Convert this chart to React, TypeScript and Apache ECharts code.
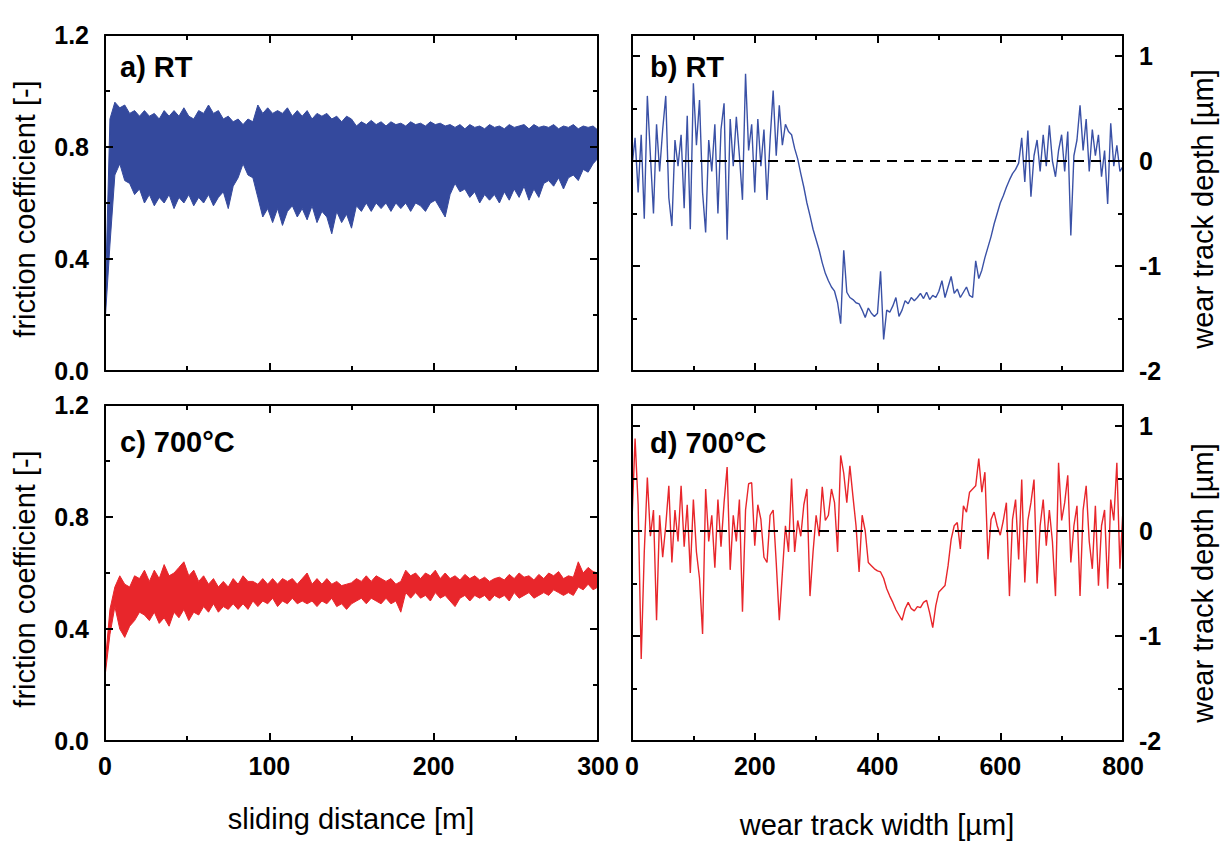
import React, { useEffect, useRef } from "react";
import * as echarts from "echarts";

// Friction coefficient band (lower / upper envelope), sampled every 3 m of sliding distance
const slidingStep = 3;
const rtFrictionHigh = [
  0.22, 0.9, 0.96, 0.94, 0.95, 0.92, 0.93, 0.91, 0.93, 0.91,
  0.92, 0.9, 0.93, 0.91, 0.93, 0.91, 0.94, 0.91, 0.9, 0.93,
  0.92, 0.95, 0.92, 0.93, 0.9, 0.91, 0.89, 0.9, 0.88, 0.9,
  0.89, 0.95, 0.92, 0.94, 0.92, 0.93, 0.92, 0.94, 0.91, 0.93,
  0.91, 0.93, 0.9, 0.92, 0.91, 0.92, 0.9, 0.91, 0.89, 0.91,
  0.9, 0.875, 0.89, 0.88, 0.895, 0.88, 0.89, 0.875, 0.89, 0.88,
  0.885, 0.875, 0.89, 0.88, 0.885, 0.875, 0.89, 0.88, 0.885, 0.875,
  0.88, 0.87, 0.88, 0.865, 0.88, 0.87, 0.875, 0.865, 0.88, 0.87,
  0.875, 0.865, 0.88, 0.87, 0.875, 0.88, 0.865, 0.88, 0.87, 0.875,
  0.87, 0.88, 0.865, 0.875, 0.87, 0.88, 0.865, 0.875, 0.87, 0.875,
  0.86,
];
const rtFrictionLow = [
  0.17, 0.45, 0.7, 0.74, 0.68, 0.67, 0.63, 0.65, 0.6, 0.63,
  0.59, 0.62, 0.6, 0.63, 0.58, 0.62, 0.6, 0.63, 0.59, 0.62,
  0.6, 0.63, 0.59, 0.62, 0.64, 0.58, 0.66, 0.69, 0.74, 0.7,
  0.69, 0.62, 0.55, 0.58, 0.53, 0.58, 0.52, 0.57, 0.59, 0.55,
  0.58, 0.54, 0.59, 0.53, 0.57, 0.55, 0.49, 0.57, 0.53, 0.56,
  0.51, 0.59, 0.57, 0.6, 0.57, 0.6, 0.58, 0.6, 0.57, 0.6,
  0.58, 0.6, 0.57, 0.6, 0.59, 0.57, 0.6, 0.61, 0.58, 0.55,
  0.63, 0.67, 0.64, 0.65, 0.62, 0.64, 0.6, 0.63, 0.61, 0.63,
  0.6, 0.64, 0.61, 0.65, 0.62, 0.66, 0.61, 0.65, 0.62, 0.67,
  0.68, 0.66, 0.69, 0.65, 0.69, 0.7, 0.68, 0.72, 0.71, 0.74,
  0.76,
];
const hotFrictionHigh = [
  0.27, 0.47, 0.55, 0.59, 0.56, 0.55, 0.59, 0.58, 0.61, 0.57,
  0.61, 0.58, 0.63, 0.59, 0.6, 0.62, 0.64, 0.59, 0.61, 0.57,
  0.59, 0.56, 0.58, 0.55, 0.57, 0.55, 0.58, 0.56, 0.59, 0.57,
  0.57, 0.56, 0.58, 0.56, 0.58, 0.56, 0.58, 0.57, 0.58, 0.56,
  0.58, 0.6, 0.56, 0.58, 0.56, 0.58, 0.56, 0.57, 0.555, 0.56,
  0.565, 0.58, 0.57, 0.59, 0.57, 0.59, 0.58, 0.57, 0.58, 0.56,
  0.57, 0.61, 0.59, 0.6, 0.58, 0.6, 0.59, 0.61, 0.58, 0.6,
  0.58, 0.59, 0.575, 0.595, 0.58, 0.59, 0.575, 0.585, 0.57, 0.58,
  0.585, 0.575, 0.595, 0.58, 0.6, 0.585, 0.59, 0.575, 0.595, 0.58,
  0.6, 0.59, 0.605, 0.58, 0.59, 0.585, 0.64, 0.6, 0.62, 0.605,
  0.6,
];
const hotFrictionLow = [
  0.23, 0.38, 0.48, 0.4, 0.37, 0.41, 0.43, 0.46, 0.45, 0.43,
  0.46, 0.42, 0.44, 0.41, 0.46, 0.44, 0.47, 0.43, 0.46, 0.45,
  0.48, 0.46, 0.49, 0.46, 0.48, 0.47, 0.49, 0.47, 0.49, 0.47,
  0.5, 0.48, 0.5, 0.49, 0.51, 0.48, 0.5, 0.49, 0.51, 0.49,
  0.5, 0.49, 0.5, 0.48, 0.5, 0.49, 0.51, 0.48, 0.49, 0.47,
  0.49, 0.5, 0.51, 0.49, 0.51, 0.5, 0.49, 0.51, 0.49, 0.5,
  0.46, 0.53, 0.51, 0.53, 0.51, 0.52, 0.5, 0.53, 0.51, 0.52,
  0.5, 0.48, 0.51, 0.52, 0.5, 0.52, 0.51, 0.52, 0.5, 0.52,
  0.51, 0.52, 0.5, 0.53, 0.51, 0.52, 0.53, 0.51, 0.52, 0.53,
  0.52, 0.54, 0.53, 0.52, 0.53, 0.52, 0.55, 0.54, 0.56, 0.54,
  0.55,
];

// Wear track depth profiles (µm), sampled every 5 µm across the track
const profileStep = 5;
const rtDepth = [
  -0.05, 0.22, -0.3, 0.25, -0.55, 0.62, 0.05, -0.5, 0.35, -0.1,
  0.3, 0.62, -0.35, -0.62, 0.2, -0.05, 0.25, -0.45, 0.43, -0.65,
  0.74, 0.15, 0.58, -0.3, -0.68, 0.2, -0.1, 0.35, -0.5, 0.3,
  0.55, -0.75, 0.4, -0.05, 0.42, 0.05, -0.37, 0.83, 0.1, 0.35,
  -0.3, 0.4, -0.05, 0.3, -0.37, 0.2, 0.67, 0.05, 0.53, 0.15,
  0.35, 0.28, 0.25, 0.12, 0.02, -0.12, -0.25, -0.4, -0.52, -0.65,
  -0.75, -0.85, -0.97, -1.07, -1.14, -1.2, -1.24, -1.35, -1.55, -0.85,
  -1.25, -1.3, -1.32, -1.35, -1.36, -1.42, -1.49, -1.4, -1.45, -1.48,
  -1.45, -1.05, -1.7, -1.42, -1.44, -1.38, -1.3, -1.48, -1.42, -1.33,
  -1.36, -1.3, -1.33, -1.3, -1.26, -1.31, -1.25, -1.32, -1.28, -1.3,
  -1.24, -1.14, -1.3, -1.2, -1.1, -1.26, -1.22, -1.3, -1.25, -1.2,
  -1.28, -1.3, -0.95, -1.12, -1.04, -0.92, -0.82, -0.72, -0.6, -0.5,
  -0.4, -0.33, -0.25, -0.18, -0.12, -0.08, -0.02, 0.22, -0.2, 0.29,
  -0.34, 0.05, 0.2, -0.1, 0.25, -0.05, 0.34, 0.0, -0.15, 0.1,
  0.25, -0.1, 0.28, -0.71, 0.05, 0.2, 0.53, 0.1, 0.4, -0.1,
  0.3, 0.05, 0.25, -0.15, 0.1, -0.41, 0.36, -0.05, 0.15, -0.1,
  -0.05,
];
const hotDepth = [
  0.1, 0.88, 0.25, -1.22, -0.2, 0.51, -0.05, 0.2, -0.85, 0.15,
  -0.25, 0.05, 0.43, -0.3, 0.2, -0.1, 0.43, -0.15, 0.25, -0.4,
  0.3, -0.2, -0.45, -0.98, 0.4, -0.1, 0.15, -0.35, 0.3, -0.15,
  0.27, 0.61, -0.37, 0.15, -0.1, 0.3, -0.77, 0.2, 0.45, 0.46,
  -0.14, 0.25, 0.11, -0.25, -0.3, 0.15, 0.2, -0.3, -0.85, -0.4,
  0.05, -0.2, 0.5, -0.2, 0.1, -0.05, 0.25, 0.4, -0.62, -0.2,
  0.15, -0.05, 0.42, 0.1, 0.15, 0.4, 0.27, -0.2, 0.72, 0.55,
  0.27, 0.62, 0.33, 0.05, -0.39, 0.15, 0.0, -0.3, -0.33, -0.36,
  -0.38, -0.39, -0.45, -0.55, -0.62, -0.68, -0.75, -0.8, -0.85, -0.74,
  -0.68, -0.74, -0.76, -0.72, -0.73, -0.68, -0.66, -0.78, -0.92, -0.71,
  -0.58, -0.55, -0.52, -0.33, -0.08, 0.05, 0.08, -0.17, 0.24, 0.18,
  0.37, 0.4, 0.43, 0.69, 0.37, 0.56, -0.27, 0.11, 0.18, 0.05,
  -0.04, 0.1, 0.27, -0.62, 0.11, 0.3, -0.27, 0.49, -0.49, 0.1,
  0.27, 0.49, -0.5, 0.05, 0.3, -0.14, 0.2, -0.1, -0.62, 0.65,
  0.1, 0.27, 0.53, -0.3, 0.05, 0.24, -0.62, 0.2, 0.43, -0.1,
  -0.36, 0.24, -0.52, 0.05, 0.2, -0.55, 0.3, 0.1, 0.65, -0.36,
  0.21,
];

// Tick positions
const distanceTicks = [0, 100, 200, 300];
const distanceMinorTicks = [50, 150, 250];
const frictionTicks = [0, 0.4, 0.8, 1.2];
const frictionMinorTicks = [0.2, 0.6, 1.0];
const widthTicks = [0, 200, 400, 600, 800];
const widthMinorTicks = [100, 300, 500, 700];
const depthTicks = [-2, -1, 0, 1];
const depthMinorTicks = [-1.5, -0.5, 0.5];

const BLUE = "#34499d";
const BLUE_LINE = "#3a51a6";
const RED = "#e8262b";
const FONT = "'Liberation Sans', Arial, Helvetica, sans-serif";

const grids = [
  { left: 105, top: 35, width: 493, height: 336 },
  { left: 632, top: 35, width: 491, height: 336 },
  { left: 105, top: 405, width: 493, height: 336 },
  { left: 632, top: 405, width: 491, height: 336 },
];

type Side = "bottom" | "top" | "left" | "right";

// Four axes per dimension and grid: major + minor ticks on both sides, ticks pointing inward
function makeAxes(
  dim: "x" | "y",
  gridIndex: number,
  min: number,
  max: number,
  majors: number[],
  minors: number[],
  labelSide: Side | null,
  formatter: (v: number) => string
) {
  const sides: Side[] = dim === "x" ? ["bottom", "top"] : ["left", "right"];
  const out: any[] = [];
  sides.forEach((pos) => {
    out.push({
      type: "value",
      gridIndex,
      position: pos,
      min,
      max,
      z: 10,
      axisLine: { show: true, onZero: false, lineStyle: { color: "#000", width: 2 } },
      axisTick: {
        show: true,
        inside: true,
        length: 8,
        customValues: majors,
        lineStyle: { color: "#000", width: 2 },
      },
      minorTick: { show: false },
      axisLabel: {
        show: pos === labelSide,
        customValues: majors,
        formatter,
        color: "#000",
        fontSize: 25,
        fontWeight: "bold",
        fontFamily: FONT,
        margin: dim === "x" ? 12 : 16,
      },
      splitLine: { show: false },
    });
    out.push({
      type: "value",
      gridIndex,
      position: pos,
      min,
      max,
      z: 10,
      axisLine: { show: false, onZero: false },
      axisTick: {
        show: true,
        inside: true,
        length: 5,
        customValues: minors,
        lineStyle: { color: "#000", width: 2 },
      },
      axisLabel: { show: false },
      splitLine: { show: false },
    });
  });
  return out;
}

const fmtInt = (v: number) => String(Math.round(v));
const fmtOne = (v: number) => v.toFixed(1);

// Filled envelope between the lower and upper friction traces, drawn as one polygon
function bandSeries(
  name: string,
  low: number[],
  high: number[],
  axisIndex: number,
  color: string
) {
  const rows = low.map((v, i) => [i * slidingStep, v, high[i]]);
  return {
    name,
    type: "custom",
    xAxisIndex: axisIndex,
    yAxisIndex: axisIndex,
    data: rows,
    encode: { x: 0, y: [1, 2] },
    silent: true,
    clip: true,
    renderItem: (params: any, api: any) => {
      if (params.dataIndex !== 0) return null;
      const pts: number[][] = [];
      rows.forEach((r) => pts.push(api.coord([r[0], r[2]])));
      for (let i = rows.length - 1; i >= 0; i--) pts.push(api.coord([rows[i][0], rows[i][1]]));
      return {
        type: "polygon",
        shape: { points: pts },
        style: { fill: color, stroke: color, lineWidth: 1 },
      };
    },
  };
}

function profileSeries(name: string, values: number[], axisIndex: number, color: string) {
  return {
    name,
    type: "line",
    xAxisIndex: axisIndex,
    yAxisIndex: axisIndex,
    data: values.map((v, i) => [i * profileStep, v]),
    symbol: "none",
    lineStyle: { color, width: 1.4 },
    silent: true,
    markLine: {
      silent: true,
      symbol: "none",
      label: { show: false },
      lineStyle: { color: "#000", type: [10, 7], width: 2 },
      data: [{ yAxis: 0 }],
      z: 5,
    },
  };
}

function textEl(text: string, x: number, y: number, font: string, rotation = 0, align = "left") {
  return {
    type: "text",
    x,
    y,
    rotation,
    style: {
      text,
      font,
      fill: "#000",
      align,
      verticalAlign: "middle",
    },
    silent: true,
  };
}

export default function App() {
  const ref = useRef<HTMLDivElement>(null);

  useEffect(() => {
    if (!ref.current) return;
    const chart = echarts.init(ref.current, undefined, { renderer: "svg" });

    const xAxis = [
      ...makeAxes("x", 0, 0, 300, distanceTicks, distanceMinorTicks, null, fmtInt),
      ...makeAxes("x", 1, 0, 800, widthTicks, widthMinorTicks, null, fmtInt),
      ...makeAxes("x", 2, 0, 300, distanceTicks, distanceMinorTicks, "bottom", fmtInt),
      ...makeAxes("x", 3, 0, 800, widthTicks, widthMinorTicks, "bottom", fmtInt),
    ];
    const yAxis = [
      ...makeAxes("y", 0, 0, 1.2, frictionTicks, frictionMinorTicks, "left", fmtOne),
      ...makeAxes("y", 1, -2, 1.2, depthTicks, depthMinorTicks, "right", fmtInt),
      ...makeAxes("y", 2, 0, 1.2, frictionTicks, frictionMinorTicks, "left", fmtOne),
      ...makeAxes("y", 3, -2, 1.2, depthTicks, depthMinorTicks, "right", fmtInt),
    ];

    const titleFont = `29px ${FONT}`;
    const panelFont = `bold 29px ${FONT}`;

    chart.setOption({
      animation: false,
      backgroundColor: "#ffffff",
      grid: grids,
      xAxis,
      yAxis,
      series: [
        bandSeries("rt-friction", rtFrictionLow, rtFrictionHigh, 0, BLUE),
        profileSeries("rt-depth", rtDepth, 4, BLUE_LINE),
        bandSeries("hot-friction", hotFrictionLow, hotFrictionHigh, 8, RED),
        profileSeries("hot-depth", hotDepth, 12, RED),
      ],
      graphic: [
        textEl("a) RT", 120, 67, panelFont),
        textEl("b) RT", 650, 67, panelFont),
        textEl("c) 700°C", 120, 442, panelFont),
        textEl("d) 700°C", 650, 443, panelFont),
        textEl("friction coefficient [-]", 25, 209, titleFont, Math.PI / 2, "center"),
        textEl("friction coefficient [-]", 25, 579, titleFont, Math.PI / 2, "center"),
        textEl("wear track depth [µm]", 1203, 209, titleFont, Math.PI / 2, "center"),
        textEl("wear track depth [µm]", 1203, 583, titleFont, Math.PI / 2, "center"),
        textEl("sliding distance [m]", 351, 819, titleFont, 0, "center"),
        textEl("wear track width [µm]", 877, 825, titleFont, 0, "center"),
      ],
    });

    return () => chart.dispose();
  }, []);

  return (
    <div
      ref={ref}
      style={{
        position: "absolute",
        left: 0,
        top: 0,
        width: 1228,
        height: 841,
        background: "#fff",
      }}
    />
  );
}
